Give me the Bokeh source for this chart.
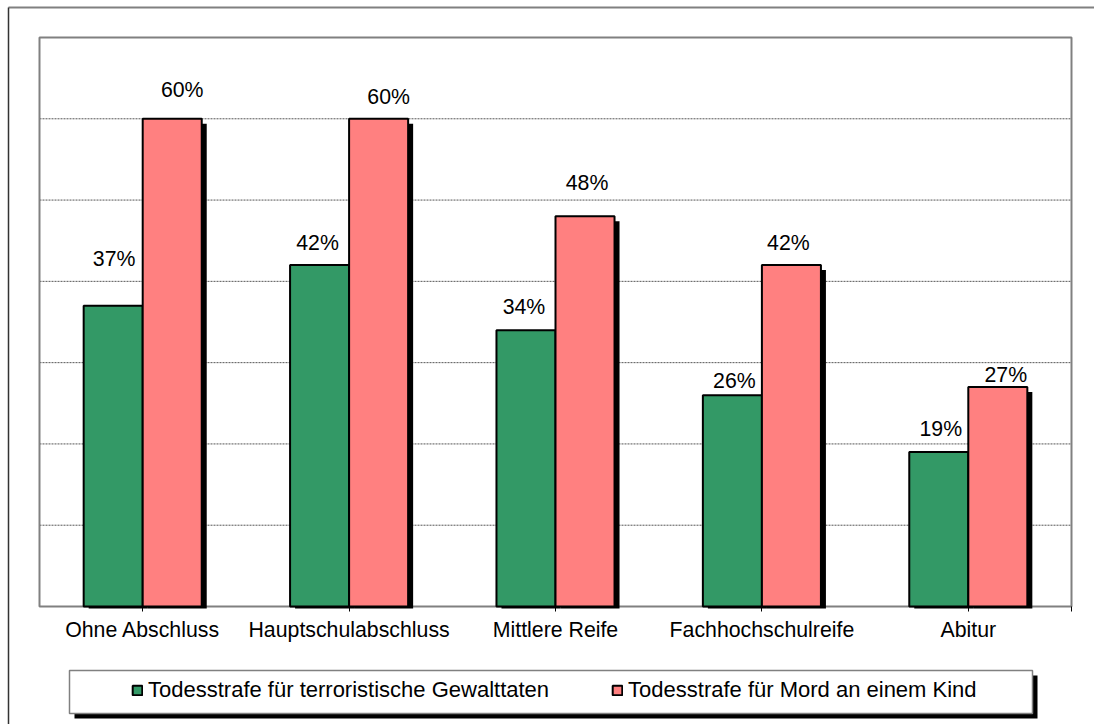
from bokeh.plotting import figure
from bokeh.models import (Range1d, ColumnDataSource, Legend, LegendItem, FixedTicker)
from bokeh.transform import dodge
from bokeh.embed import file_html
from bokeh.resources import INLINE
from bokeh.core.properties import value

# --- data -------------------------------------------------------------
categories = ["Ohne Abschluss", "Hauptschulabschluss", "Mittlere Reife",
              "Fachhochschulreife", "Abitur"]
series_names = ["Todesstrafe für terroristische Gewalttaten",
                "Todesstrafe für Mord an einem Kind"]
terror = [37, 42, 34, 26, 19]
kind = [60, 60, 48, 42, 27]
grid_values = [10, 20, 30, 40, 50, 60]

# --- layout / styling ------------------------------------------------
FONT = "Liberation Sans"
FS = "21.3px"
LEGEND_FS = "22px"
GREEN = "#339966"
PINK = "#FF8080"
W, H = 1094, 724
Y_MAX = 70
# plot area in canvas pixels
AREA_L, AREA_R, AREA_T, AREA_B = 39, 1071, 37, 606
N = len(categories)
CAT_PX = (AREA_R - AREA_L) / N            # pixels per category
VAL_PX = (AREA_B - AREA_T) / Y_MAX        # pixels per percent

X0 = -0.5 - AREA_L / CAT_PX               # data x at the canvas left edge
Y_TOP = Y_MAX + AREA_T / VAL_PX           # data y at the canvas top edge


def px_x(px):
    return X0 + px / CAT_PX


def px_y(py):
    return Y_TOP - py / VAL_PX


BAR_W = 0.286
SHADOW_DX = 5 / CAT_PX
SHADOW_DY = 5 / VAL_PX

# label nudges in pixels (dx right, lift above bar top)
green_dx = [1, -2, -2, 2, 2]
green_lift = [47, 22, 23, 14, 23]
pink_dx = [10, 10, 2, -3, 8]
pink_lift = [29, 22, 33, 22, 12]

xpos = list(range(N))
src = ColumnDataSource(dict(
    x=xpos,
    terror=terror,
    kind=kind,
    terror_sh=[v - SHADOW_DY for v in terror],
    kind_sh=[v - SHADOW_DY for v in kind],
    terror_lbl=[f"{v}%" for v in terror],
    kind_lbl=[f"{v}%" for v in kind],
    g_dx=green_dx, g_dy=[-v for v in green_lift],
    p_dx=pink_dx, p_dy=[-v for v in pink_lift],
))

p = figure(width=W, height=H,
           x_range=Range1d(px_x(0), px_x(W)),
           y_range=Range1d(px_y(H), px_y(0)),
           y_axis_location=None,
           output_backend="svg", toolbar_location=None, min_border=0)
p.background_fill_color = "white"
p.border_fill_color = "white"
p.outline_line_color = None
p.grid.visible = False

# outer frame of the whole chart (top and left edges)
p.segment(x0=px_x(8), x1=px_x(W + 10), y0=px_y(7), y1=px_y(7),
          line_color="#808080", line_width=2)
p.segment(x0=px_x(8), x1=px_x(8), y0=px_y(7), y1=px_y(H + 10),
          line_color="#333333", line_width=1.5)

# dotted gridlines
p.segment(x0=-0.5, x1=N - 0.5, y0=grid_values, y1=grid_values,
          line_color="#555555", line_dash="2 1", line_width=1)

# plot area border
p.quad(left=-0.5, right=N - 0.5, bottom=0, top=Y_MAX,
       fill_color=None, line_color="#808080", line_width=2)

# bar shadows
for field, off in (("terror_sh", -BAR_W / 2), ("kind_sh", BAR_W / 2)):
    p.vbar(x=dodge("x", off + SHADOW_DX), top=field, bottom=-2 / VAL_PX,
           width=BAR_W, source=src, fill_color="black", line_color=None)

g = p.vbar(x=dodge("x", -BAR_W / 2), top="terror", width=BAR_W, source=src,
           fill_color=GREEN, line_color="black", line_width=2)
r = p.vbar(x=dodge("x", BAR_W / 2), top="kind", width=BAR_W, source=src,
           fill_color=PINK, line_color="black", line_width=2)

# value labels
for xo, top, field, dx, dy in ((-BAR_W / 2, "terror", "terror_lbl", "g_dx", "g_dy"),
                               (BAR_W / 2, "kind", "kind_lbl", "p_dx", "p_dy")):
    p.text(x=dodge("x", xo), y=top, text=field, source=src,
           x_offset=dx, y_offset=dy,
           text_align="center", text_baseline="middle",
           text_font=value(FONT), text_font_size=FS, text_color="black")

# category axis pinned to the zero line
ax = p.xaxis[0]
ax.fixed_location = 0
ax.bounds = (-0.5, N - 0.5)
ax.ticker = FixedTicker(ticks=xpos + [N - 0.5])
ax.major_label_overrides = {**{i: c for i, c in zip(xpos, categories)}, N - 0.5: ""}
ax.axis_line_color = None
ax.major_tick_line_color = "black"
ax.major_tick_line_width = 1
ax.major_tick_out = 5
ax.major_tick_in = 0
ax.minor_tick_line_color = None
ax.major_label_standoff = 6
ax.major_label_text_font = FONT
ax.major_label_text_font_size = FS
ax.major_label_text_color = "black"

# legend box with drop shadow
p.quad(left=px_x(74), right=px_x(1037), top=px_y(675), bottom=px_y(718),
       fill_color="black", line_color=None)
p.quad(left=px_x(69), right=px_x(1032), top=px_y(670), bottom=px_y(713),
       fill_color="white", line_color="#808080", line_width=1.5)

legend = Legend(items=[LegendItem(label=series_names[0], renderers=[g]),
                       LegendItem(label=series_names[1], renderers=[r])],
                orientation="horizontal", location=(131, H - 703),
                border_line_color=None, background_fill_alpha=0,
                label_text_font=FONT, label_text_font_size=LEGEND_FS,
                label_text_color="black", label_height=24,
                glyph_width=12, glyph_height=12, label_standoff=5,
                spacing=62, padding=0, margin=0)
p.add_layout(legend, "center")

open("out.html", "w").write(file_html(p, INLINE))
